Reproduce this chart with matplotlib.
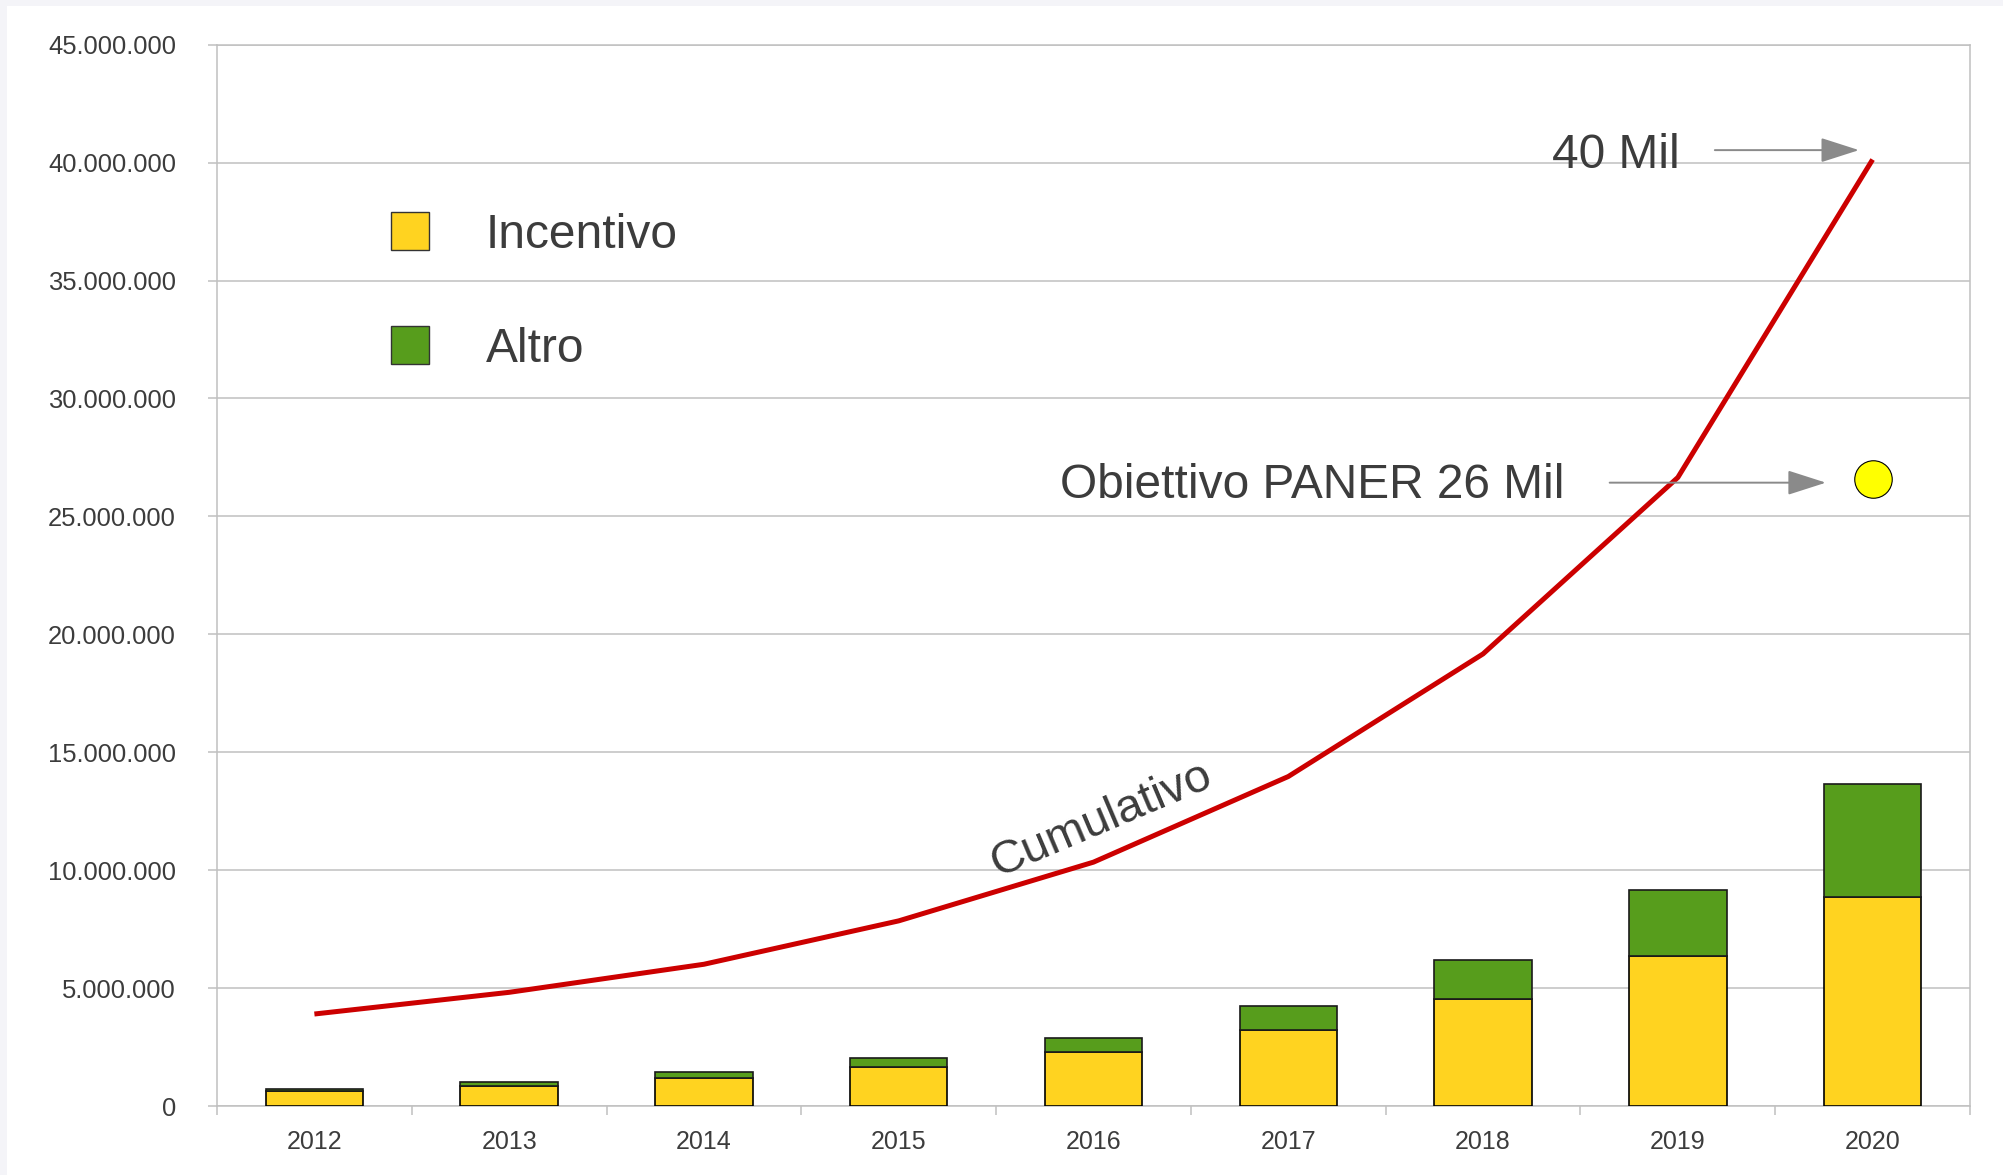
import matplotlib
matplotlib.use("Agg")
import matplotlib.pyplot as plt
from matplotlib.patches import Rectangle
from matplotlib.ticker import FuncFormatter, FixedLocator
import numpy as np

plt.rcParams['font.family'] = ['Liberation Sans', 'DejaVu Sans']

years = ["2012", "2013", "2014", "2015", "2016", "2017", "2018", "2019", "2020"]
incentivo = [620000, 840000, 1170000, 1650000, 2300000, 3220000, 4530000, 6350000, 8850000]
altro = [100000, 180000, 260000, 370000, 600000, 1000000, 1670000, 2800000, 4800000]
cumulativo = [3900000, 4820000, 6010000, 7850000, 10340000, 13970000, 19170000, 26650000, 40130000]
obiettivo_paner = 26600000
y_ticks = [0, 5000000, 10000000, 15000000, 20000000, 25000000, 30000000, 35000000, 40000000, 45000000]

TEXT = '#3c3c3c'
GRID = '#c0c0c0'
YELLOW = '#ffd320'
GREEN = '#579d1c'
RED = '#cc0000'

fig = plt.figure(figsize=(20.03, 11.75), dpi=100)
fig.patch.set_facecolor('#f4f4f8')
fig.add_artist(Rectangle((6.5/2003, 0), 1 - 6.5/2003, (1175-6)/1175,
                         transform=fig.transFigure, facecolor='white', edgecolor='none', zorder=0))

ax = fig.add_axes([217/2003, 1 - 1106/1175, (1970-217)/2003, (1106-44.7)/1175])
ax.set_facecolor('white')

x = np.arange(len(years))
ax.bar(x, incentivo, width=0.5, color=YELLOW, edgecolor='#000000', linewidth=1.2, zorder=3)
ax.bar(x, altro, width=0.5, bottom=incentivo, color=GREEN, edgecolor='#1a1a1a', linewidth=1.2, zorder=3)
ax.plot(x, cumulativo, color=RED, linewidth=3.6, zorder=4, solid_capstyle='butt')
ax.plot([x[-1]], [obiettivo_paner], marker='o', markersize=27, markerfacecolor='#ffff00',
        markeredgecolor='#000000', markeredgewidth=0.8, linestyle='none', zorder=5)

ax.set_xlim(-0.5, len(years) - 0.5)
ax.set_ylim(0, 45000000)

ax.yaxis.set_major_locator(FixedLocator(y_ticks))
ax.yaxis.set_major_formatter(FuncFormatter(lambda v, p: f"{int(v):,}".replace(",", ".")))
ax.set_xticks(x)
ax.set_xticklabels(years)
ax.set_xticks(np.arange(-0.5, len(years)), minor=True)

ax.tick_params(axis='y', which='major', length=6.5, width=1.1, color=GRID, pad=23,
               labelsize=18.4, labelcolor=TEXT, direction='out')
ax.tick_params(axis='x', which='major', length=0, pad=17, labelsize=18, labelcolor=TEXT)
ax.tick_params(axis='x', which='minor', length=6.5, width=1.1, color=GRID, direction='out')

ax.grid(axis='y', color=GRID, linewidth=1.1, zorder=0)
for s in ax.spines.values():
    s.set_color(GRID)
    s.set_linewidth(1.1)

# legend (manual)
ax.add_patch(Rectangle((0.394, 36280000), 0.196, 1620000, facecolor=YELLOW, edgecolor='#333333',
                       linewidth=1.0, zorder=5, clip_on=False))
ax.add_patch(Rectangle((0.394, 31460000), 0.196, 1630000, facecolor=GREEN, edgecolor='#333333',
                       linewidth=1.0, zorder=5, clip_on=False))
ax.text(0.879, 36900000, "Incentivo", fontsize=34.5, color=TEXT, va='center', ha='left')
ax.text(0.879, 32080000, "Altro", fontsize=34.5, color=TEXT, va='center', ha='left')

# annotations
arrowprops = dict(arrowstyle='-|>,head_length=2.4,head_width=0.77', color='#8a8a8a', lw=1.4,
                  shrinkA=0, shrinkB=0, mutation_scale=10)
ax.annotate("", xy=(7.93, 40530000), xytext=(7.19, 40530000), arrowprops=arrowprops, zorder=6)
ax.annotate("", xy=(7.76, 26430000), xytext=(6.65, 26430000), arrowprops=arrowprops, zorder=6)
ax.text(7.01, 40300000, "40 Mil", fontsize=34.5, color=TEXT, ha='right', va='center')
ax.text(6.42, 26300000, "Obiettivo PANER 26 Mil", fontsize=34.5, color=TEXT, ha='right', va='center')
ax.text(4.04, 12150000, "Cumulativo", fontsize=34, color=TEXT, ha='center', va='center',
        rotation=23, rotation_mode='anchor')

fig.savefig("out.png", dpi=100, facecolor=fig.get_facecolor())
